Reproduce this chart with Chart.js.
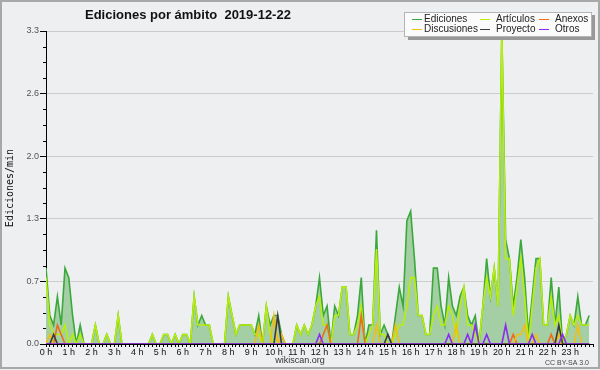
<!DOCTYPE html>
<html>
<head>
<meta charset="utf-8">
<script src="https://cdn.jsdelivr.net/npm/chart.js@4/dist/chart.umd.min.js"></script>
<style>
  html, body { margin: 0; padding: 0; background: #eeeff1; }
  canvas { display: block; }
</style>
</head>
<body>
<canvas id="chart" width="600" height="370"></canvas>
<script>
const chartTitle = 'Ediciones por ámbito  2019-12-22'
const yTitle = 'Ediciones/min'
const hourLabels = ['0 h', '1 h', '2 h', '3 h', '4 h', '5 h', '6 h', '7 h', '8 h', '9 h', '10 h', '11 h',
  '12 h', '13 h', '14 h', '15 h', '16 h', '17 h', '18 h', '19 h', '20 h', '21 h', '22 h', '23 h']
const yTicks = [0, 0.66, 1.32, 1.98, 2.64, 3.3]

// one value per 10 minute slot, 144 slots (4 hours per row)
const ediciones = [
  0.8, 0.3, 0.2, 0.5, 0.2, 0.8, 0.7, 0.3, 0, 0.2, 0, 0, 0, 0.2, 0, 0, 0.1, 0, 0, 0.3, 0, 0, 0, 0,
  0, 0, 0, 0, 0.1, 0, 0, 0.1, 0.1, 0, 0.1, 0, 0.1, 0.1, 0, 0.5, 0.2, 0.3, 0.2, 0.2, 0, 0, 0, 0,
  0.5, 0.3, 0.1, 0.2, 0.2, 0.2, 0.2, 0.1, 0.3, 0, 0.4, 0.2, 0.3, 0.3, 0.1, 0, 0, 0, 0.2, 0.1, 0.2, 0.1, 0.2, 0.4,
  0.7, 0.3, 0.4, 0, 0.4, 0.3, 0.6, 0.6, 0.1, 0.1, 0.3, 0.7, 0, 0.2, 0.2, 1.2, 0.1, 0.2, 0.1, 0, 0.3, 0.6, 0.4, 1.3,
  1.4, 0.9, 0.3, 0.3, 0.1, 0.1, 0.8, 0.8, 0.4, 0.2, 0.7, 0.4, 0.3, 0.5, 0.6, 0.3, 0.2, 0.3, 0, 0.4, 0.9, 0.5, 0.8, 0.4,
  3.3, 1.1, 0.9, 0.4, 0.7, 1.1, 0.7, 0.1, 0.5, 0.9, 0.9, 0.2, 0.2, 0.7, 0.2, 0.6, 0, 0.1, 0.3, 0.2, 0.5, 0.2, 0.2, 0.3
]
const articulos = [
  0.7, 0.2, 0.1, 0.1, 0.1, 0.2, 0, 0.1, 0, 0.1, 0, 0, 0, 0.2, 0, 0, 0.1, 0, 0, 0.3, 0, 0, 0, 0,
  0, 0, 0, 0, 0.1, 0, 0, 0.1, 0.1, 0, 0.1, 0, 0.1, 0.1, 0, 0.5, 0.2, 0.2, 0.2, 0.2, 0, 0, 0, 0,
  0.5, 0.3, 0.1, 0.2, 0.2, 0.2, 0.2, 0.1, 0.1, 0, 0.4, 0.1, 0, 0, 0, 0, 0, 0, 0.2, 0.1, 0.2, 0.1, 0.2, 0.4,
  0.5, 0.2, 0.2, 0, 0.3, 0.3, 0.6, 0.6, 0.1, 0.1, 0.2, 0.4, 0, 0.1, 0.2, 1.0, 0.1, 0.1, 0, 0, 0.1, 0.2, 0.2, 0.4,
  0.7, 0.7, 0.3, 0.3, 0.1, 0.1, 0.3, 0.4, 0.2, 0.2, 0.4, 0.3, 0.1, 0.4, 0.6, 0.2, 0.2, 0.1, 0, 0.4, 0.7, 0.5, 0.8, 0.4,
  3.3, 0.9, 0.9, 0.3, 0.6, 0.9, 0.5, 0, 0.4, 0.8, 0.9, 0.2, 0.2, 0.5, 0.2, 0.3, 0, 0.1, 0.3, 0.2, 0.3, 0.2, 0.2, 0.2
]
const anexos = [
  0, 0, 0, 0.2, 0.1, 0, 0, 0, 0, 0, 0, 0, 0, 0, 0, 0, 0, 0, 0, 0, 0, 0, 0, 0,
  0, 0, 0, 0, 0, 0, 0, 0, 0, 0, 0, 0, 0, 0, 0, 0, 0, 0, 0, 0, 0, 0, 0, 0,
  0, 0, 0, 0, 0, 0, 0, 0, 0, 0, 0, 0, 0, 0, 0, 0, 0, 0, 0, 0, 0, 0, 0, 0,
  0, 0.1, 0.2, 0, 0, 0, 0, 0, 0, 0, 0, 0.3, 0, 0, 0, 0, 0, 0, 0, 0, 0, 0, 0, 0,
  0, 0, 0, 0, 0, 0, 0, 0, 0, 0, 0, 0, 0, 0, 0, 0, 0, 0, 0, 0, 0, 0, 0, 0,
  0, 0, 0, 0.1, 0, 0, 0, 0, 0, 0, 0, 0, 0, 0.1, 0, 0, 0, 0, 0, 0, 0, 0, 0, 0
]
const discusiones = [
  0, 0.1, 0, 0, 0, 0, 0, 0, 0, 0, 0, 0, 0, 0, 0, 0, 0, 0, 0, 0, 0, 0, 0, 0,
  0, 0, 0, 0, 0, 0, 0, 0, 0, 0, 0, 0, 0, 0, 0, 0, 0, 0, 0, 0, 0, 0, 0, 0,
  0, 0, 0, 0, 0, 0, 0, 0, 0.2, 0, 0, 0, 0.3, 0, 0.1, 0, 0, 0, 0, 0, 0, 0, 0, 0,
  0, 0, 0, 0, 0, 0, 0, 0, 0, 0, 0, 0, 0, 0, 0, 0.2, 0, 0, 0, 0, 0.2, 0, 0, 0,
  0, 0, 0, 0, 0, 0, 0, 0, 0, 0, 0, 0, 0.2, 0, 0, 0, 0, 0, 0, 0, 0, 0, 0, 0,
  0, 0, 0, 0, 0.1, 0.1, 0.2, 0, 0, 0.1, 0, 0, 0, 0, 0, 0.1, 0, 0, 0, 0, 0.2, 0, 0, 0
]
const proyecto = [
  0, 0, 0.1, 0, 0, 0, 0, 0, 0, 0, 0, 0, 0, 0, 0, 0, 0, 0, 0, 0, 0, 0, 0, 0,
  0, 0, 0, 0, 0, 0, 0, 0, 0, 0, 0, 0, 0, 0, 0, 0, 0, 0, 0, 0, 0, 0, 0, 0,
  0, 0, 0, 0, 0, 0, 0, 0, 0, 0, 0, 0, 0, 0.3, 0, 0, 0, 0, 0, 0, 0, 0, 0, 0,
  0, 0, 0, 0, 0, 0, 0, 0, 0, 0, 0, 0, 0, 0, 0, 0, 0, 0, 0.1, 0, 0, 0, 0, 0,
  0, 0, 0, 0, 0, 0, 0, 0, 0, 0, 0, 0, 0, 0, 0, 0, 0, 0, 0, 0, 0, 0, 0, 0,
  0, 0, 0, 0, 0, 0, 0, 0, 0, 0, 0, 0, 0, 0, 0, 0.2, 0, 0, 0, 0, 0, 0, 0, 0
]
const otros = [
  0, 0, 0, 0, 0, 0, 0, 0, 0, 0, 0, 0, 0, 0, 0, 0, 0, 0, 0, 0, 0, 0, 0, 0,
  0, 0, 0, 0, 0, 0, 0, 0, 0, 0, 0, 0, 0, 0, 0, 0, 0, 0, 0, 0, 0, 0, 0, 0,
  0, 0, 0, 0, 0, 0, 0, 0, 0, 0, 0, 0, 0, 0, 0, 0, 0, 0, 0, 0, 0, 0, 0, 0,
  0.1, 0, 0, 0, 0, 0, 0, 0, 0, 0, 0, 0, 0, 0, 0, 0, 0, 0, 0, 0, 0, 0, 0, 0,
  0, 0, 0, 0, 0, 0, 0, 0, 0, 0, 0.1, 0, 0, 0, 0, 0.1, 0, 0.2, 0, 0, 0.1, 0, 0, 0,
  0, 0.2, 0, 0, 0, 0, 0, 0, 0.1, 0, 0, 0, 0, 0, 0, 0, 0.1, 0, 0, 0, 0, 0, 0, 0
]

// x positions: minutes since midnight of each slot
const slotMinutes = ediciones.map((_, i) => i * 10)
const axisMinutes = slotMinutes.concat([1440])

const series = [
  { label: 'Ediciones', data: ediciones, color: '#3aa83a' },
  { label: 'Artículos', data: articulos, color: '#b8ee0a' },
  { label: 'Anexos', data: anexos, color: '#f06a1e' },
  { label: 'Discusiones', data: discusiones, color: '#f0be14' },
  { label: 'Proyecto', data: proyecto, color: '#3c3c3c' },
  { label: 'Otros', data: otros, color: '#8c2cf0' }
]

const datasets = series.map((s, k) => ({
  label: s.label,
  data: s.data.map((v, i) => ({ x: slotMinutes[i], y: v })),
  borderColor: s.color,
  backgroundColor: k === 0 ? '#a4cfa4' : s.color,
  fill: k === 0 ? 'origin' : false,
  borderWidth: 1.6,
  pointRadius: 0,
  tension: 0,
  order: series.length - k
}))

// background, frame, title, legend and small texts
const decor = {
  id: 'decor',
  beforeDraw (chart) {
    const ctx = chart.ctx
    ctx.save()
    ctx.fillStyle = '#eeeff1'
    ctx.fillRect(0, 0, chart.width, chart.height)
    ctx.restore()
  },
  afterDraw (chart) {
    const { ctx, chartArea, scales } = chart
    ctx.save()

    // minor ticks on the y axis
    ctx.strokeStyle = '#000'
    ctx.lineWidth = 1
    for (let k = 0; k < yTicks.length - 1; k++) {
      for (let q = 1; q < 4; q++) {
        const v = yTicks[k] + (yTicks[k + 1] - yTicks[k]) * q / 4
        const py = Math.round(scales.y.getPixelForValue(v)) + 0.5
        ctx.beginPath()
        ctx.moveTo(chartArea.left - 3, py)
        ctx.lineTo(chartArea.left, py)
        ctx.stroke()
      }
    }

    // frame
    ctx.strokeStyle = '#a8a8a8'
    ctx.lineWidth = 2
    ctx.strokeRect(1, 1, chart.width - 2, chart.height - 3)

    // title
    ctx.fillStyle = '#111'
    ctx.font = 'bold 13px "Liberation Sans"'
    ctx.textAlign = 'left'
    ctx.textBaseline = 'middle'
    ctx.fillText(chartTitle, 85, 15)

    // legend box
    ctx.fillStyle = '#999'
    ctx.fillRect(408, 15, 187, 25)
    ctx.fillStyle = '#fbfbfb'
    ctx.fillRect(404, 12, 188, 25)
    ctx.strokeStyle = '#b4b4b4'
    ctx.lineWidth = 1
    ctx.strokeRect(404.5, 12.5, 187, 24)
    const colLine = [412, 480, 539]
    const colText = [424, 496, 555]
    const rowY = [19.5, 29.5]
    ctx.font = '10px "Liberation Sans"'
    series.forEach((s, k) => {
      const col = k % 3
      const row = Math.floor(k / 3)
      ctx.strokeStyle = s.color
      ctx.beginPath()
      ctx.moveTo(colLine[col], rowY[row])
      ctx.lineTo(colLine[col] + 10, rowY[row])
      ctx.stroke()
      ctx.fillStyle = '#222'
      ctx.fillText(s.label, colText[col], rowY[row])
    })

    // footer texts
    ctx.fillStyle = '#333'
    ctx.font = '9px "Liberation Sans"'
    ctx.textAlign = 'center'
    ctx.fillText('wikiscan.org', 300, 361)
    ctx.fillStyle = '#444'
    ctx.font = '7px "Liberation Sans"'
    ctx.textAlign = 'right'
    ctx.fillText('CC BY-SA 3.0', 589, 363)

    // y axis title
    ctx.translate(10, 188)
    ctx.rotate(-Math.PI / 2)
    ctx.fillStyle = '#111'
    ctx.font = '10px "DejaVu Sans Mono"'
    ctx.textAlign = 'center'
    ctx.fillText(yTitle, 0, 0)

    ctx.restore()
  }
}

new Chart(document.getElementById('chart'), {
  type: 'line',
  data: { datasets },
  options: {
    responsive: false,
    animation: false,
    devicePixelRatio: 1,
    layout: { padding: { top: 31, right: 7, bottom: 0, left: 0 } },
    plugins: {
      legend: { display: false },
      title: { display: false },
      tooltip: { enabled: false }
    },
    scales: {
      x: {
        type: 'linear',
        min: 0,
        max: 1440,
        z: 1,
        afterFit: s => { s.height = 26 },
        afterBuildTicks: s => { s.ticks = axisMinutes.map(v => ({ value: v })) },
        ticks: {
          autoSkip: false,
          maxRotation: 0,
          padding: 0,
          color: '#111',
          font: { family: 'Liberation Sans', size: 9 },
          callback: v => (v % 60 === 0 && v < 1440) ? hourLabels[v / 60] : ''
        },
        grid: { drawOnChartArea: false, tickLength: 3, tickColor: '#000' },
        border: { color: '#000', width: 1 }
      },
      y: {
        min: 0,
        max: 3.3,
        afterFit: s => { s.width = 46 },
        afterBuildTicks: s => { s.ticks = yTicks.map(v => ({ value: v })) },
        ticks: {
          padding: 1,
          color: '#555',
          font: { family: 'Liberation Sans', size: 9 },
          callback: v => v.toFixed(1)
        },
        grid: { color: '#cccccc', tickColor: '#000', tickLength: 6 },
        border: { color: '#000', width: 1 }
      }
    }
  },
  plugins: [decor]
})
</script>
</body>
</html>
